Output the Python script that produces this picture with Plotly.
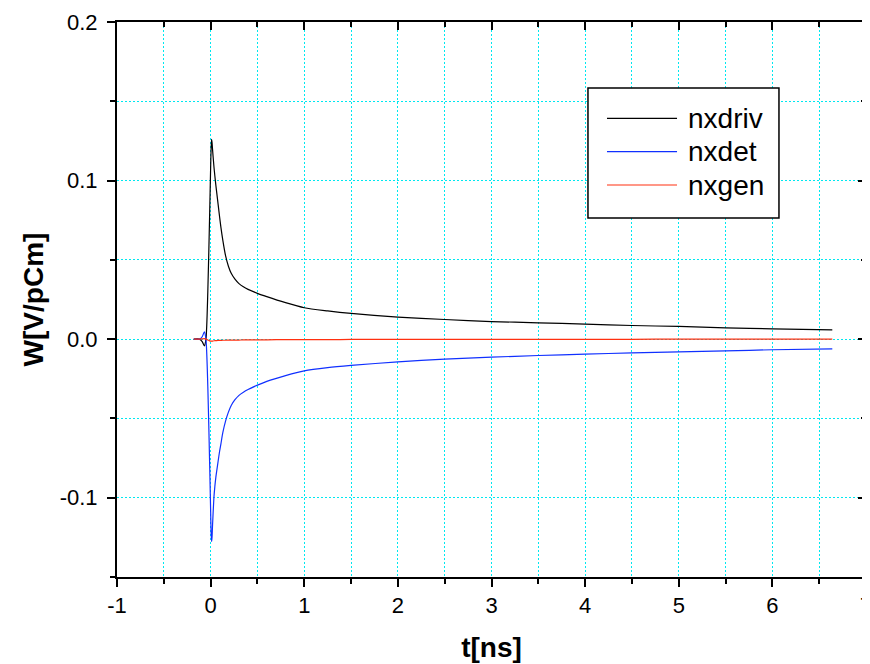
import plotly.graph_objects as go

# time axis [ns] shared by all three wake potentials
t_ns = [-0.18, -0.12, -0.09, -0.067, -0.05, -0.03, -0.01, 0.0, 0.005, 0.01,
        0.015, 0.02, 0.035, 0.045, 0.056, 0.068, 0.08, 0.095, 0.11, 0.13, 0.16,
        0.19, 0.22, 0.26, 0.3, 0.35, 0.4, 0.5, 0.6, 0.8, 1.0, 1.25, 1.5, 2.0,
        2.5, 3.0, 3.5, 4.0, 4.5, 5.0, 5.5, 6.0, 6.64]

nxdriv = [0.0, 0.0, -0.0015, -0.0042, 0.0, 0.03, 0.08, 0.108, 0.12, 0.126,
          0.124, 0.12, 0.109, 0.103, 0.097, 0.091, 0.085, 0.0775, 0.0705, 0.0625,
          0.0525, 0.046, 0.0415, 0.0378, 0.0352, 0.033, 0.0314, 0.0289, 0.0268,
          0.0230, 0.0198, 0.0178, 0.0162, 0.0139, 0.0124, 0.0111, 0.0103, 0.0095,
          0.0086, 0.008, 0.0071, 0.0065, 0.0059]

nxdet = [0.0, 0.0, 0.0015, 0.0046, 0.0, -0.03, -0.08, -0.108, -0.122, -0.1276,
         -0.125, -0.118, -0.10, -0.093, -0.087, -0.082, -0.077, -0.071, -0.066,
         -0.059, -0.0515, -0.046, -0.0418, -0.0382, -0.0356, -0.0335, -0.0318,
         -0.029, -0.0266, -0.023, -0.020, -0.018, -0.0166, -0.0143, -0.0126,
         -0.0114, -0.0103, -0.0095, -0.0086, -0.008, -0.0074, -0.0067, -0.0061]

nxgen = [0.0, 0.0, 0.0002, 0.0003, 0.0, -0.0005, -0.0011, -0.0013, -0.0013,
         -0.0013, -0.0013, -0.0012, -0.001, -0.001, -0.0009, -0.0009, -0.0008,
         -0.0008, -0.0008, -0.0007, -0.0007, -0.0006, -0.0006, -0.0006, -0.0006,
         -0.0005, -0.0005, -0.0004, -0.0004, -0.0003, -0.0003, -0.0003, -0.0002,
         -0.0002, -0.0002, -0.0001, -0.0001, -0.0001, -0.0001, 0.0, 0.0, 0.0, 0.0]

x_ticks = [-1, 0, 1, 2, 3, 4, 5, 6, 7]
x_labels = ['-1', '0', '1', '2', '3', '4', '5', '6', '7']
y_ticks = [-0.1, 0.0, 0.1, 0.2]
y_labels = ['-0.1', '0.0', '0.1', '0.2']

x_range = [-1, 7]
y_range = [-0.15, 0.2]

series = [('nxdriv', nxdriv, '#000000'),
          ('nxdet', nxdet, '#1030ff'),
          ('nxgen', nxgen, '#ff3010')]

FONT = 'Liberation Sans, Arial'
GRID = '#00e8f0'
DOTS = '2px,2px'

fig = go.Figure()
for name, vals, col in series:
    fig.add_trace(go.Scatter(x=t_ns, y=vals, mode='lines', name=name, showlegend=False,
                             line=dict(color=col, width=1.2, shape='spline', smoothing=0.7)))

# empty trace so the top/right frame axes get drawn (ticks point inward there)
fig.add_trace(go.Scatter(x=[None], y=[None], xaxis='x2', yaxis='y2',
                         showlegend=False, hoverinfo='skip'))

axis_style = dict(showline=True, linecolor='black', linewidth=2,
                  ticks='outside', ticklen=8, tickwidth=2, tickcolor='black',
                  showgrid=True, gridcolor=GRID, griddash=DOTS, gridwidth=1,
                  zeroline=False, automargin=False, ticklabeloverflow='allow',
                  tickfont=dict(family=FONT, size=22, color='black'))

fig.update_layout(
    xaxis=dict(range=x_range, tickmode='array', tickvals=x_ticks, ticktext=x_labels,
               minor=dict(dtick=0.5, ticks='outside', ticklen=5, tickwidth=2,
                          tickcolor='black', showgrid=True, gridcolor=GRID,
                          griddash=DOTS),
               title=dict(text='<b>t[ns]</b>', standoff=20,
                          font=dict(family=FONT, size=28, color='black')),
               **axis_style),
    yaxis=dict(range=y_range, tickmode='array', tickvals=y_ticks, ticktext=y_labels,
               ticklabelstandoff=5,
               minor=dict(dtick=0.05, ticks='outside', ticklen=5, tickwidth=2,
                          tickcolor='black', showgrid=True, gridcolor=GRID,
                          griddash=DOTS),
               title=dict(text='<b>W[V/pCm]</b>', standoff=8,
                          font=dict(family=FONT, size=28, color='black')),
               **axis_style),
    xaxis2=dict(range=x_range, overlaying='x', side='top', anchor='y2',
                showline=True, linecolor='black', linewidth=2,
                ticks='inside', ticklen=8, tickwidth=2, tickcolor='black', dtick=1, tick0=0,
                minor=dict(dtick=0.5, ticks='inside', ticklen=5, tickwidth=2, tickcolor='black'),
                showticklabels=False, showgrid=False, zeroline=False, automargin=False),
    yaxis2=dict(range=y_range, overlaying='y', side='right', anchor='x2',
                showline=True, linecolor='black', linewidth=2,
                ticks='inside', ticklen=8, tickwidth=2, tickcolor='black', dtick=0.1, tick0=0,
                minor=dict(dtick=0.05, ticks='inside', ticklen=5, tickwidth=2, tickcolor='black'),
                showticklabels=False, showgrid=False, zeroline=False, automargin=False),
)

# legend drawn by hand (Origin-like box with long sample lines)
fig.add_shape(type='rect', xref='paper', yref='paper', x0=0.6288, x1=0.8838,
              y0=0.6468, y1=0.8811, layer='above', fillcolor='white',
              line=dict(color='black', width=1.5))
for i, (name, vals, col) in enumerate(series):
    ly = 0.8265 - i * 0.0601
    fig.add_shape(type='line', xref='paper', yref='paper', x0=0.6542, x1=0.7477,
                  y0=ly, y1=ly, layer='above', line=dict(color=col, width=1.2))
    fig.add_annotation(text=name, xref='paper', yref='paper', x=0.7597, y=ly,
                       xanchor='left', yanchor='middle', showarrow=False,
                       font=dict(family=FONT, size=28, color='black'))

# page body adds an 8px offset, so the figure is 8px smaller than the window
fig.update_layout(width=862, height=656, plot_bgcolor='white', paper_bgcolor='white',
                  margin=dict(l=109, r=4, t=14, b=87), showlegend=False)

fig.write_html("out.html")
